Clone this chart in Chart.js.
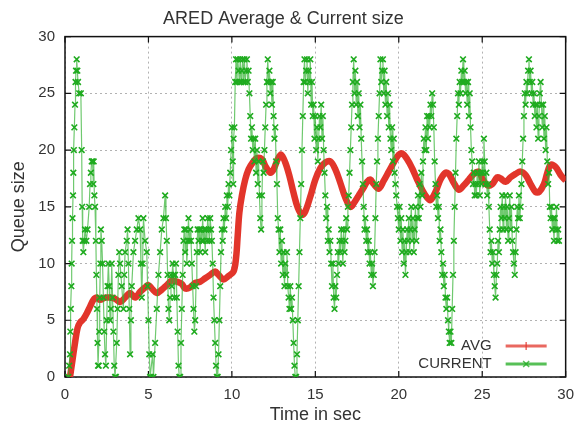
<!DOCTYPE html>
<html>
<head>
<meta charset="utf-8">
<title>ARED Average & Current size</title>
<script src="https://cdn.jsdelivr.net/npm/chart.js@4.4.1/dist/chart.umd.min.js"></script>
<style>
  html, body { margin: 0; padding: 0; background: #fff; }
  canvas { display: block; }
</style>
</head>
<body>
<canvas id="aredChart" width="583" height="433"></canvas>
<script>
// tick labels
const xTicks = [0, 5, 10, 15, 20, 25, 30];
const yTicks = [0, 5, 10, 15, 20, 25, 30];

// AVG queue size
const avgTime = [
  0.3, 0.45, 0.6, 0.75, 0.9, 1.1, 1.3, 1.5, 1.7, 1.9,
  2.1, 2.4, 2.7, 3.0, 3.3, 3.6, 3.9, 4.2, 4.5, 4.8,
  5.0, 5.2, 5.5, 5.8, 6.1, 6.4, 6.7, 7.0, 7.2, 7.5,
  7.8, 8.1, 8.4, 8.7, 9.0, 9.2, 9.5, 9.8, 10.1, 10.25,
  10.35, 10.45, 10.6, 10.8, 11.0, 11.25, 11.5, 11.8, 12.0, 12.3,
  12.5, 12.75, 12.95, 13.2, 13.45, 13.7, 13.95, 14.2, 14.4, 14.7,
  15.0, 15.3, 15.6, 15.9, 16.2, 16.5, 16.8, 17.1, 17.3, 17.6,
  17.9, 18.1, 18.3, 18.5, 18.8, 19.1, 19.4, 19.7, 20.0, 20.2,
  20.5, 20.8, 21.1, 21.4, 21.7, 21.9, 22.2, 22.5, 22.8, 23.0,
  23.3, 23.6, 23.9, 24.2, 24.5, 24.8, 25.0, 25.3, 25.6, 25.9,
  26.1, 26.4, 26.7, 27.0, 27.3, 27.6, 27.9, 28.2, 28.4, 28.7,
  28.9, 29.1, 29.4, 29.7, 30.0
];
const avgSize = [
  0, 1.5, 3, 4.3, 4.8, 5.1, 5.6, 6.2, 6.8, 7.0,
  6.8, 7.0, 7.0, 6.9, 6.6, 7.0, 7.4, 7.0, 7.5, 7.9,
  8.1, 7.8, 7.4, 7.7, 8.1, 8.5, 8.4, 8.2, 7.8, 7.9,
  8.3, 8.4, 8.7, 9.0, 9.3, 9.0, 8.6, 8.9, 9.3, 10.5,
  12.5, 14.5, 16.0, 17.4, 18.3, 18.9, 19.3, 19.2, 18.6, 18.0,
  18.3, 19.2, 19.6, 18.9, 17.7, 16.2, 14.9, 14.3, 14.6, 15.9,
  17.4, 18.4, 18.9, 19.0, 18.3, 17.1, 15.8, 15.0, 15.3, 16.0,
  16.7, 17.2, 17.4, 17.0, 16.6, 17.3, 18.1, 18.9, 19.6, 19.7,
  19.2, 18.4, 17.4, 16.5, 15.8, 15.6, 16.3, 17.4, 18.0, 17.9,
  17.1, 16.5, 16.9, 17.4, 17.9, 18.1, 17.5, 16.9, 17.0, 17.6,
  17.5, 17.2, 17.6, 17.9, 18.1, 17.8, 17.0, 16.3, 16.3, 17.0,
  18.0, 18.7, 18.5, 17.8, 17.3
];

// CURRENT queue size
const currentTime = [
  0.20, 0.25, 0.30, 0.32, 0.35, 0.38, 0.40, 0.42, 0.45, 0.48,
  0.50, 0.53, 0.56, 0.60, 0.63, 0.66, 0.70, 0.74, 0.78, 0.85,
  0.95, 1.00, 1.03, 1.06, 1.10, 1.15, 1.20, 1.28, 1.35, 1.45,
  1.50, 1.55, 1.60, 1.65, 1.70, 1.72, 1.76, 1.80, 1.85, 1.88,
  1.92, 1.95, 1.98, 2.02, 2.05, 2.08, 2.12, 2.15, 2.20, 2.25,
  2.30, 2.35, 2.40, 2.45, 2.50, 2.55, 2.60, 2.65, 2.70, 2.75,
  2.80, 2.85, 2.90, 2.95, 3.00, 3.05, 3.10, 3.15, 3.20, 3.25,
  3.30, 3.40, 3.50, 3.55, 3.60, 3.70, 3.75, 3.80, 3.85, 3.90,
  3.95, 4.00, 4.10, 4.20, 4.30, 4.40, 4.50, 4.55, 4.60, 4.65,
  4.70, 4.80, 4.90, 4.95, 5.00, 5.05, 5.10, 5.15, 5.25, 5.30,
  5.40, 5.50, 5.60, 5.70, 5.80, 5.90, 6.00, 6.05, 6.10, 6.15,
  6.20, 6.25, 6.30, 6.35, 6.40, 6.45, 6.50, 6.55, 6.60, 6.65,
  6.70, 6.75, 6.80, 6.85, 6.90, 6.95, 7.00, 7.05, 7.10, 7.15,
  7.20, 7.25, 7.30, 7.35, 7.40, 7.45, 7.50, 7.55, 7.60, 7.65,
  7.70, 7.75, 7.80, 7.85, 7.90, 7.95, 8.00, 8.05, 8.10, 8.15,
  8.20, 8.25, 8.30, 8.35, 8.40, 8.45, 8.50, 8.55, 8.60, 8.65,
  8.70, 8.75, 8.80, 8.85, 8.90, 8.95, 9.00, 9.05, 9.10, 9.15,
  9.20, 9.25, 9.30, 9.35, 9.40, 9.45, 9.50, 9.55, 9.60, 9.65,
  9.70, 9.75, 9.80, 9.85, 9.90, 9.95, 10.00, 10.05, 10.08, 10.10,
  10.15, 10.20, 10.25, 10.30, 10.35, 10.40, 10.45, 10.50, 10.55, 10.60,
  10.65, 10.70, 10.75, 10.80, 10.85, 10.90, 10.95, 11.00, 11.05, 11.10,
  11.15, 11.20, 11.25, 11.30, 11.35, 11.40, 11.45, 11.50, 11.55, 11.60,
  11.65, 11.70, 11.75, 11.80, 11.85, 11.90, 11.95, 12.00, 12.05, 12.10,
  12.15, 12.20, 12.25, 12.30, 12.35, 12.40, 12.45, 12.50, 12.55, 12.60,
  12.65, 12.70, 12.75, 12.80, 12.85, 12.90, 12.95, 13.00, 13.05, 13.10,
  13.15, 13.20, 13.25, 13.30, 13.35, 13.40, 13.45, 13.50, 13.55, 13.60,
  13.65, 13.70, 13.75, 13.80, 13.85, 13.90, 13.95, 14.00, 14.05, 14.10,
  14.15, 14.20, 14.25, 14.30, 14.35, 14.40, 14.45, 14.50, 14.55, 14.60,
  14.65, 14.70, 14.75, 14.80, 14.85, 14.90, 14.95, 15.00, 15.05, 15.10,
  15.15, 15.20, 15.25, 15.30, 15.35, 15.40, 15.45, 15.50, 15.55, 15.60,
  15.65, 15.70, 15.75, 15.80, 15.85, 15.90, 15.95, 16.00, 16.05, 16.10,
  16.15, 16.20, 16.25, 16.30, 16.35, 16.40, 16.45, 16.50, 16.55, 16.60,
  16.65, 16.70, 16.75, 16.80, 16.85, 16.90, 16.95, 17.00, 17.05, 17.10,
  17.15, 17.20, 17.25, 17.30, 17.35, 17.40, 17.45, 17.50, 17.55, 17.60,
  17.65, 17.70, 17.75, 17.80, 17.85, 17.90, 17.95, 18.00, 18.05, 18.10,
  18.15, 18.20, 18.25, 18.30, 18.35, 18.40, 18.45, 18.50, 18.55, 18.60,
  18.65, 18.70, 18.75, 18.80, 18.85, 18.90, 18.95, 19.00, 19.05, 19.10,
  19.15, 19.20, 19.25, 19.30, 19.35, 19.40, 19.45, 19.50, 19.55, 19.60,
  19.65, 19.70, 19.75, 19.80, 19.85, 19.90, 19.95, 20.00, 20.05, 20.10,
  20.15, 20.20, 20.25, 20.30, 20.35, 20.40, 20.45, 20.50, 20.55, 20.60,
  20.65, 20.70, 20.75, 20.80, 20.85, 20.90, 20.95, 21.00, 21.05, 21.10,
  21.15, 21.20, 21.25, 21.30, 21.35, 21.40, 21.45, 21.50, 21.55, 21.60,
  21.65, 21.70, 21.75, 21.80, 21.85, 21.90, 21.95, 22.00, 22.05, 22.10,
  22.15, 22.20, 22.25, 22.30, 22.35, 22.40, 22.45, 22.50, 22.55, 22.60,
  22.65, 22.70, 22.75, 22.80, 22.85, 22.90, 22.95, 23.00, 23.05, 23.10,
  23.15, 23.20, 23.25, 23.30, 23.35, 23.40, 23.45, 23.50, 23.55, 23.60,
  23.65, 23.70, 23.75, 23.80, 23.85, 23.90, 23.95, 24.00, 24.05, 24.10,
  24.15, 24.20, 24.25, 24.30, 24.35, 24.40, 24.45, 24.50, 24.55, 24.60,
  24.65, 24.70, 24.75, 24.80, 24.85, 24.90, 24.95, 25.00, 25.05, 25.10,
  25.15, 25.20, 25.25, 25.30, 25.35, 25.40, 25.45, 25.50, 25.55, 25.60,
  25.65, 25.70, 25.75, 25.80, 25.85, 25.90, 25.95, 26.00, 26.05, 26.10,
  26.15, 26.20, 26.25, 26.30, 26.35, 26.40, 26.45, 26.50, 26.55, 26.60,
  26.65, 26.70, 26.75, 26.80, 26.85, 26.90, 26.95, 27.00, 27.05, 27.10,
  27.15, 27.20, 27.25, 27.30, 27.35, 27.40, 27.45, 27.50, 27.55, 27.60,
  27.65, 27.70, 27.75, 27.80, 27.85, 27.90, 27.95, 28.00, 28.05, 28.10,
  28.15, 28.20, 28.25, 28.30, 28.35, 28.40, 28.45, 28.50, 28.55, 28.60,
  28.65, 28.70, 28.75, 28.80, 28.85, 28.90, 28.95, 29.00, 29.05, 29.10,
  29.15, 29.20, 29.25, 29.30, 29.35, 29.40, 29.45, 29.50, 29.55, 29.60
];
const currentSize = [
  0, 1, 2, 4, 6, 8, 10, 12, 14, 16,
  18, 20, 22, 24, 26, 27, 28, 27, 26, 25,
  25, 20, 15, 12, 11, 12, 13, 12, 13, 15,
  17, 18, 19, 19, 17, 19, 16, 15, 12, 9,
  6, 3, 1, 1, 4, 7, 10, 13, 12, 10,
  7, 4, 2, 1, 5, 8, 10, 8, 5, 6,
  10, 7, 4, 1, 0, 0, 3, 6, 9, 11,
  10, 8, 6, 9, 11, 12, 13, 10, 6, 2,
  5, 8, 11, 12, 13, 14, 13, 10, 7, 10,
  14, 12, 11, 8, 5, 2, 0, 0, 2, 0,
  3, 6, 9, 11, 13, 14, 16, 14, 12, 9,
  6, 5, 7, 9, 8, 10, 9, 7, 9, 10,
  7, 4, 1, 0, 0, 3, 6, 9, 12, 13,
  11, 13, 10, 12, 14, 12, 13, 12, 10, 8,
  6, 4, 5, 8, 11, 13, 12, 13, 11, 13,
  12, 14, 12, 13, 11, 13, 12, 14, 13, 12,
  14, 13, 12, 10, 7, 5, 3, 1, 0, 0,
  2, 5, 8, 11, 13, 12, 14, 13, 15, 14,
  16, 15, 17, 16, 18, 20, 22, 19, 17, 21,
  22, 26, 28, 26, 28, 27, 26, 28, 26, 27,
  28, 26, 28, 26, 27, 28, 26, 27, 25, 23,
  21, 22, 20, 21, 19, 21, 18, 20, 17, 19,
  16, 14, 13, 16, 19, 18, 20, 22, 24, 26,
  28, 26, 27, 25, 26, 24, 26, 23, 21, 22,
  19, 17, 14, 13, 11, 13, 10, 12, 9, 11,
  8, 10, 9, 11, 8, 7, 6, 8, 6, 7,
  5, 3, 1, 0, 0, 2, 5, 8, 11, 14,
  17, 20, 23, 26, 28, 26, 27, 28, 25, 27,
  26, 28, 24, 26, 23, 24, 21, 23, 20, 22,
  19, 21, 23, 22, 24, 21, 23, 20, 18, 16,
  14, 15, 12, 13, 11, 12, 10, 8, 10, 7,
  6, 8, 7, 9, 11, 10, 12, 11, 13, 12,
  10, 13, 11, 12, 14, 13, 15, 16, 18, 20,
  22, 24, 26, 28, 25, 27, 24, 26, 23, 25,
  22, 24, 21, 19, 17, 15, 13, 14, 12, 13,
  11, 12, 10, 11, 9, 10, 8, 9, 11, 14,
  17, 19, 21, 23, 25, 28, 26, 27, 28, 25,
  27, 24, 26, 23, 25, 22, 24, 21, 20, 22,
  19, 21, 18, 17, 16, 15, 14, 13, 15, 12,
  14, 11, 13, 10, 12, 9, 11, 13, 12, 14,
  11, 13, 15, 12, 14, 11, 13, 15, 12, 14,
  16, 14, 17, 15, 18, 16, 19, 21, 20, 22,
  20, 23, 21, 23, 22, 24, 23, 25, 24, 22,
  19, 17, 15, 16, 14, 15, 12, 13, 11, 9,
  10, 8, 9, 7, 6, 7, 5, 4, 3, 4,
  3, 6, 9, 12, 15, 18, 21, 23, 25, 24,
  26, 25, 27, 26, 28, 26, 27, 25, 26, 24,
  26, 23, 25, 22, 20, 19, 17, 18, 16, 17,
  16, 18, 17, 19, 16, 18, 17, 19, 18, 21,
  19, 17, 18, 16, 17, 15, 13, 11, 12, 10,
  11, 9, 8, 7, 9, 10, 12, 11, 13, 15,
  14, 16, 13, 15, 14, 16, 13, 15, 12, 14,
  16, 13, 15, 12, 11, 10, 9, 11, 13, 15,
  14, 16, 14, 15, 17, 19, 21, 23, 25, 24,
  26, 25, 27, 28, 26, 27, 25, 26, 24, 25,
  23, 24, 22, 24, 21, 23, 25, 26, 24, 22,
  24, 21, 23, 20, 22, 19, 17, 18, 15, 14,
  15, 13, 14, 12, 14, 13, 15, 12, 13, 12
];

const seriesNames = ['AVG', 'CURRENT'];

const FONT = "'Liberation Sans', Arial, sans-serif";
const TEXT = '#333333';
const RED = '#e2352b';
const GREEN = '#1fab1f';

Chart.defaults.font.family = FONT;
Chart.defaults.color = TEXT;

// frame around the plot with gnuplot-like inward ticks on all sides
const framePlugin = {
  id: 'frame',
  beforeDatasetsDraw(chart) {
    const {ctx, chartArea: a, scales} = chart;
    ctx.save();
    ctx.strokeStyle = '#111';
    ctx.lineWidth = 1.5;
    ctx.strokeRect(a.left, a.top, a.right - a.left, a.bottom - a.top);
    ctx.lineWidth = 1.2;
    ctx.beginPath();
    xTicks.forEach((v) => {
      const px = scales.x.getPixelForValue(v);
      ctx.moveTo(px, a.bottom); ctx.lineTo(px, a.bottom - 6);
      ctx.moveTo(px, a.top); ctx.lineTo(px, a.top + 6);
    });
    yTicks.forEach((v) => {
      const py = scales.y.getPixelForValue(v);
      ctx.moveTo(a.left, py); ctx.lineTo(a.left + 6, py);
      ctx.moveTo(a.right, py); ctx.lineTo(a.right - 6, py);
    });
    ctx.stroke();
    ctx.restore();
  },
};

// key inside the plot, lower right, like gnuplot
const keyPlugin = {
  id: 'key',
  afterDraw(chart) {
    const {ctx, chartArea: a} = chart;
    const textRight = a.right - 74;
    const x1 = a.right - 60;
    const x2 = a.right - 19;
    const xm = (x1 + x2) / 2;
    const rows = [
      {y: a.bottom - 31, color: 'rgba(226,53,43,0.75)', mark: 'plus'},
      {y: a.bottom - 13, color: 'rgba(31,171,31,0.75)', mark: 'x'},
    ];
    ctx.save();
    ctx.font = '15px ' + FONT;
    ctx.fillStyle = TEXT;
    ctx.textAlign = 'right';
    ctx.textBaseline = 'middle';
    rows.forEach((r, i) => {
      ctx.fillText(seriesNames[i], textRight, r.y);
      ctx.strokeStyle = r.color;
      ctx.lineWidth = 3;
      ctx.beginPath();
      ctx.moveTo(x1, r.y); ctx.lineTo(x2, r.y);
      ctx.stroke();
      ctx.lineWidth = 1.5;
      ctx.beginPath();
      if (r.mark === 'plus') {
        ctx.moveTo(xm, r.y - 4); ctx.lineTo(xm, r.y + 4);
      } else {
        ctx.moveTo(xm - 3, r.y - 3); ctx.lineTo(xm + 3, r.y + 3);
        ctx.moveTo(xm - 3, r.y + 3); ctx.lineTo(xm + 3, r.y - 3);
      }
      ctx.stroke();
    });
    ctx.restore();
  },
};

const avgData = avgTime.map((t, i) => ({x: t, y: avgSize[i]}));
const currentData = currentTime.map((t, i) => ({x: t, y: currentSize[i]}));

const grid = {
  color: 'rgba(0,0,0,0.3)',
  lineWidth: 1,
  drawTicks: false,
};

new Chart(document.getElementById('aredChart'), {
  type: 'line',
  data: {
    datasets: [
      {
        label: seriesNames[0],
        data: avgData,
        borderColor: RED,
        borderWidth: 6.5,
        pointRadius: 0,
        tension: 0.35,
        order: 2,
      },
      {
        label: seriesNames[1],
        data: currentData,
        borderColor: 'rgba(50,178,50,0.7)',
        borderWidth: 1.2,
        pointStyle: 'crossRot',
        pointRadius: 4,
        pointBorderColor: GREEN,
        pointBorderWidth: 1.6,
        tension: 0,
        order: 1,
      },
    ],
  },
  options: {
    responsive: false,
    animation: false,
    devicePixelRatio: 1,
    layout: {padding: {top: 1, right: 16, bottom: 0, left: 0}},
    plugins: {
      legend: {display: false},
      tooltip: {enabled: false},
      title: {
        display: true,
        text: 'ARED Average & Current size',
        color: TEXT,
        font: {size: 18, weight: 'normal'},
        padding: {top: 7, bottom: 7},
      },
    },
    scales: {
      x: {
        type: 'linear',
        min: 0,
        max: 30,
        afterBuildTicks: (s) => { s.ticks = xTicks.map((v) => ({value: v})); },
        afterFit: (s) => { s.height = 56; },
        ticks: {color: TEXT, font: {size: 15}, padding: 9, maxRotation: 0},
        grid: grid,
        border: {display: false, dash: [2, 3]},
        title: {
          display: true,
          text: 'Time in sec',
          color: TEXT,
          font: {size: 18},
          padding: {top: 0, bottom: 7},
        },
      },
      y: {
        min: 0,
        max: 30,
        afterBuildTicks: (s) => { s.ticks = yTicks.map((v) => ({value: v})); },
        afterFit: (s) => { s.width = 65; },
        ticks: {color: TEXT, font: {size: 15}, padding: 10},
        grid: grid,
        border: {display: false, dash: [2, 3]},
        title: {
          display: true,
          text: 'Queue size',
          color: TEXT,
          font: {size: 18},
          padding: {top: 8, bottom: 0},
        },
      },
    },
  },
  plugins: [framePlugin, keyPlugin],
});
</script>
</body>
</html>
